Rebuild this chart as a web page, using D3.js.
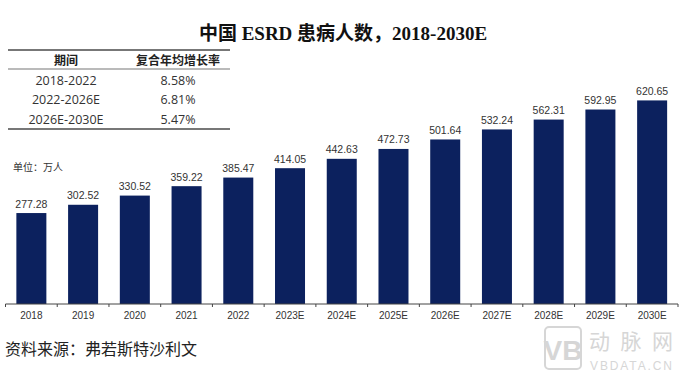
<!DOCTYPE html>
<html>
  <head>
    <meta charset="utf-8">
    <title>ESRD</title>
    <script src="https://d3js.org/d3.v7.min.js"></script>
    <style>
      body { margin: 0; background: #fff; }
      svg { display: block; }
    </style>
  </head>
  <body>
    <svg id="canvas" width="685" height="374"></svg>
    <script>
      // data
      const years = ["2018", "2019", "2020", "2021", "2022", "2023E", "2024E", "2025E", "2026E", "2027E", "2028E", "2029E", "2030E"];
      const patients = [277.28, 302.52, 330.52, 359.22, 385.47, 414.05, 442.63, 472.73, 501.64, 532.24, 562.31, 592.95, 620.65];
      const periods = ["2018-2022", "2022-2026E", "2026E-2030E"];
      const cagr = ["8.58%", "6.81%", "5.47%"];

      const sans = "'Liberation Sans', Arial, 'Noto Sans CJK SC', sans-serif";
      const serif = "'Liberation Serif', 'Times New Roman', 'Noto Sans CJK SC', serif";
      const cjk = "'Noto Sans CJK SC', sans-serif";

      const canvas = d3.select("#canvas");

      // title
      canvas.append("text")
        .attr("x", 343).attr("y", 40)
        .attr("text-anchor", "middle")
        .style("font-family", serif)
        .style("font-weight", "bold")
        .style("font-size", "19px")
        .style("fill", "#111")
        .text("中国 ESRD 患病人数，2018-2030E");

      // scales
      const x = d3.scaleBand()
        .domain(years)
        .range([5.5, 678])
        .paddingInner(0.42)
        .paddingOuter(0.21);
      const y = d3.scaleLinear()
        .domain([0, 700])
        .range([304, 74.4]);

      // bars
      canvas.append("g")
        .selectAll("rect")
          .data(patients)
        .enter().append("rect")
          .attr("x", function(d, i) { return x(years[i]); })
          .attr("y", function(d) { return y(d); })
          .attr("width", x.bandwidth())
          .attr("height", function(d) { return y(0) - y(d); })
          .style("fill", "#0c215e");

      // value labels
      canvas.append("g")
        .selectAll("text")
          .data(patients)
        .enter().append("text")
          .attr("x", function(d, i) { return x(years[i]) + x.bandwidth() / 2; })
          .attr("y", function(d) { return y(d) - 5.5; })
          .attr("text-anchor", "middle")
          .style("font-family", sans)
          .style("font-size", "10.5px")
          .style("fill", "#333")
          .text(function(d) { return d.toFixed(2); });

      // x axis, ticks sit between categories
      const axis = canvas.append("g")
        .attr("transform", "translate(0," + y(0) + ")");
      axis.append("line")
        .attr("x1", x.range()[0]).attr("x2", x.range()[1])
        .style("stroke", "#444").style("stroke-width", 1);
      const half = x.step() * x.paddingInner() / 2;
      const tickX = years.map(function(d) { return x(d) - half; })
        .concat([x(years[years.length - 1]) + x.bandwidth() + half]);
      axis.selectAll(".tick")
          .data(tickX)
        .enter().append("line")
          .attr("x1", function(d) { return d; })
          .attr("x2", function(d) { return d; })
          .attr("y1", 0).attr("y2", 3)
          .style("stroke", "#444");
      axis.selectAll(".lab")
          .data(years)
        .enter().append("text")
          .attr("x", function(d) { return x(d) + x.bandwidth() / 2; })
          .attr("y", 15)
          .attr("text-anchor", "middle")
          .style("font-family", sans)
          .style("font-size", "10px")
          .style("fill", "#333")
          .text(function(d) { return d; });

      // unit
      canvas.append("text")
        .attr("x", 13).attr("y", 171)
        .style("font-family", cjk)
        .style("font-size", "10px")
        .style("fill", "#333")
        .text("单位：万人");

      // CAGR table
      const table = canvas.append("g");
      [50, 69, 129].forEach(function(ly, i) {
        table.append("line")
          .attr("x1", 8).attr("x2", 230)
          .attr("y1", ly).attr("y2", ly)
          .style("stroke", "#777")
          .style("stroke-width", i == 1 ? 1.2 : 1.8);
      });
      table.append("text")
        .attr("x", 66).attr("y", 65)
        .attr("text-anchor", "middle")
        .style("font-family", cjk).style("font-weight", "bold")
        .style("font-size", "12px").style("fill", "#222")
        .text("期间");
      table.append("text")
        .attr("x", 178).attr("y", 65)
        .attr("text-anchor", "middle")
        .style("font-family", cjk).style("font-weight", "bold")
        .style("font-size", "12px").style("fill", "#222")
        .text("复合年均增长率");
      table.selectAll(".row")
          .data(periods)
        .enter().append("g")
          .each(function(d, i) {
            const g = d3.select(this);
            const ty = 84.5 + i * 19.5;
            g.append("text")
              .attr("x", 66).attr("y", ty)
              .attr("text-anchor", "middle")
              .style("font-family", "'Open Sans', sans-serif")
              .style("font-size", "12.5px").style("fill", "#333")
              .text(d);
            g.append("text")
              .attr("x", 178).attr("y", ty)
              .attr("text-anchor", "middle")
              .style("font-family", "'Open Sans', sans-serif")
              .style("font-size", "12.5px").style("fill", "#333")
              .text(cagr[i]);
          });

      // source
      canvas.append("text")
        .attr("x", 5).attr("y", 355)
        .style("font-family", cjk)
        .style("font-size", "16px")
        .style("fill", "#222")
        .text("资料来源：弗若斯特沙利文");

      // watermark
      const wm = canvas.append("g").style("fill", "#d6d6d6");
      wm.append("rect")
        .attr("x", 545).attr("y", 327).attr("width", 36).attr("height", 42)
        .attr("rx", 4)
        .style("fill", "none").style("stroke", "#d6d6d6").style("stroke-width", 2);
      wm.append("text")
        .attr("x", 563).attr("y", 360)
        .attr("text-anchor", "middle")
        .style("font-family", sans).style("font-weight", "bold")
        .style("font-size", "28px")
        .text("VB");
      wm.append("text")
        .attr("x", 589).attr("y", 349)
        .attr("textLength", 84)
        .style("font-family", cjk)
        .style("font-size", "21px")
        .text("动脉网");
      wm.append("text")
        .attr("x", 590).attr("y", 370)
        .attr("textLength", 82)
        .style("font-family", sans)
        .style("font-size", "12px")
        .text("VBDATA.CN");
    </script>
  </body>
</html>
